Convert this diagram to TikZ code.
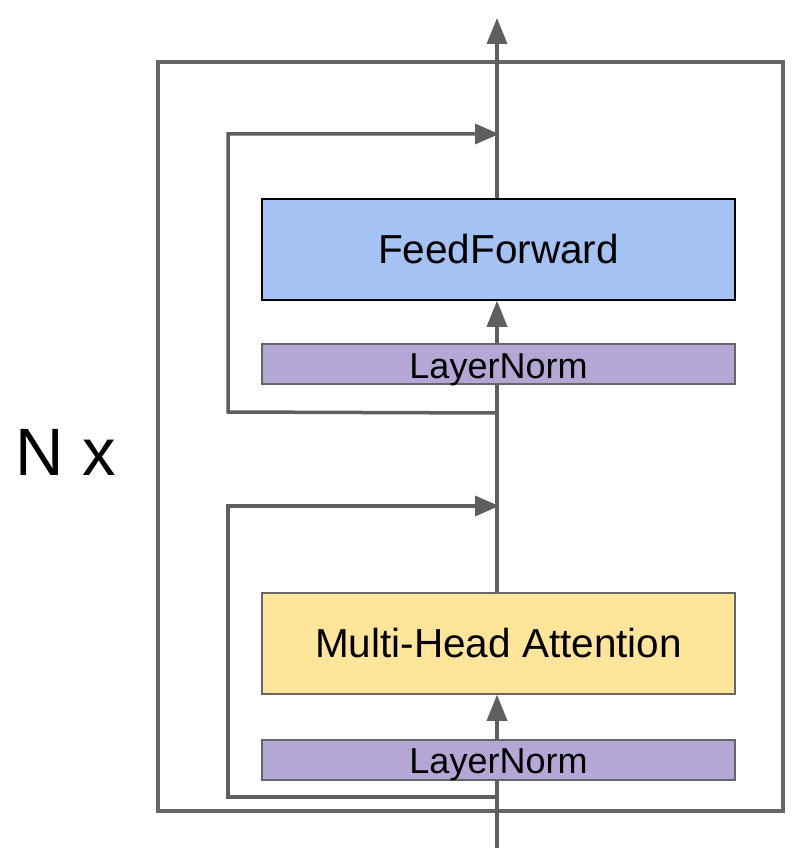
\documentclass[tikz,border=0pt]{standalone}
\usepackage{fontspec}
\setmainfont{Liberation Sans}
\usetikzlibrary{arrows.meta}
\definecolor{linegray}{HTML}{5F5F5F}
\definecolor{boxgray}{HTML}{666666}
\definecolor{ffblue}{HTML}{A4C2F4}
\definecolor{mhayellow}{HTML}{FFE599}
\definecolor{lnpurple}{HTML}{B4A7D6}
\tikzset{
  blockbox/.style={draw, inner sep=0pt, minimum width=473pt},
  bigbox/.style={blockbox, minimum height=101pt, font=\fontsize{40.5}{46}\selectfont},
  normbox/.style={blockbox, fill=lnpurple, draw=boxgray, line width=1.5pt, minimum height=40pt, font=\fontsize{36}{40}\selectfont},
  flow/.style={draw=linegray, line width=3.5pt},
  flowarrow/.style={flow, -{Triangle[length=26pt,width=20pt]}},
  resarrow/.style={flow, -{Triangle[length=24pt,width=20pt]}, line join=miter},
}
\begin{document}
\begin{tikzpicture}[x=1pt,y=-1pt]
\useasboundingbox (0,0) rectangle (808,866);
\draw[draw=boxgray, line width=4pt] (158,62) rectangle (783,811);
\node[font=\fontsize{67}{72}\selectfont] (nx) at (66,452) {N x};

\node[bigbox, fill=ffblue, draw=black, line width=1.5pt] (ff) at (498.5,249.5) {FeedForward};
\node[normbox] (ln2) at (498.5,364) {\raisebox{-14pt}[0pt][0pt]{LayerNorm}};
\node[bigbox, fill=mhayellow, draw=boxgray, line width=1.5pt] (mha) at (498.5,643.5) {Multi-Head Attention};
\node[normbox] (ln1) at (498.5,760) {\raisebox{-13.5pt}[0pt][0pt]{LayerNorm}};

\coordinate (in) at (497,848);
\coordinate (out) at (497,18);
\coordinate (j1) at (497,797);
\coordinate (a1) at (499,506);
\coordinate (j2) at (497,413);
\coordinate (a2) at (499,134);

% main flow
\draw[flow] (in) -- (ln1.south -| in);
\draw[flowarrow] (ln1.north -| in) -- (mha.south -| in);
\draw[flow] (mha.north -| in) -- (ln2.south -| in);
\draw[flowarrow] (ln2.north -| in) -- (ff.south -| in);
\draw[flowarrow] (ff.north -| in) -- (out);

% residual connections
\draw[resarrow] (j1) -- (228,797) -- (228,506) -- (a1);
\draw[resarrow] (j2) -- (228,412) -- (228,134) -- (a2);
\end{tikzpicture}
\end{document}
